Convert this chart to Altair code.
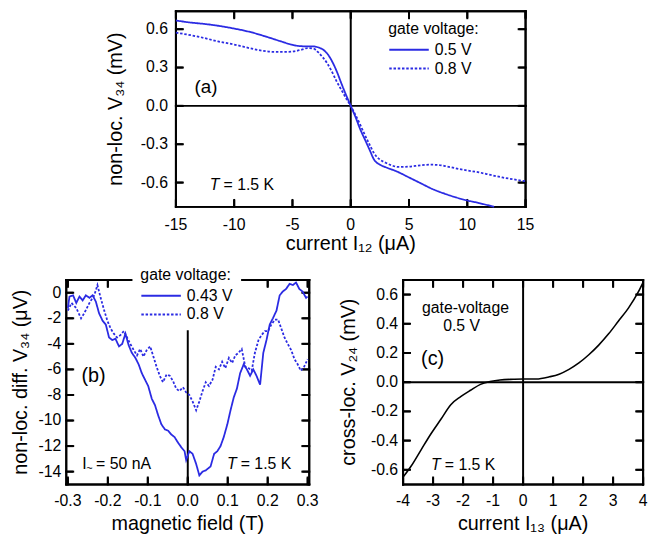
import altair as alt
import pandas as pd

BLUE = "#2b2be3"
FONT = "Liberation Sans"
W, H = 652, 537

# ---------------- panel (a): non-local V34 vs current I12 ----------------
a_gates = ["0.5 V", "0.8 V"]
a_solid_x = [-15, -14, -12, -10, -8.5, -7.2, -6, -4.9, -4.0, -3.2, -2.7, -2.3, -1.9, -1.5, -1.2,
             -0.8, -0.4, 0, 0.4, 0.8, 1.2, 1.6, 2.0, 2.5, 3.0, 4.0, 5.0, 6.0, 7.0, 8.0, 9.0,
             10.0, 11.0, 12.3]
a_solid_y = [0.668, 0.655, 0.635, 0.605, 0.575, 0.54, 0.505, 0.475, 0.466, 0.465, 0.455, 0.435,
             0.395, 0.33, 0.27, 0.175, 0.085, 0.0, -0.085, -0.18, -0.26, -0.34, -0.42, -0.46,
             -0.48, -0.515, -0.56, -0.605, -0.65, -0.685, -0.715, -0.74, -0.76, -0.79]
a_dot_x = [-15, -13, -11.4, -10, -8.6, -7.5, -6.4, -5.5, -4.9, -4.2, -3.7, -3.2, -2.8, -2.4, -2.0,
           -1.6, -1.2, -0.8, -0.4, 0, 0.4, 0.8, 1.2, 1.6, 2.0, 2.5, 3.0, 3.5, 4.1, 5.0, 6.0, 6.9,
           7.6, 8.3, 9.0, 10.0, 11.0, 12.0, 13.0, 14.0, 15.0]
a_dot_y = [0.573, 0.54, 0.505, 0.48, 0.45, 0.43, 0.422, 0.422, 0.426, 0.44, 0.452, 0.448, 0.42,
           0.38, 0.33, 0.265, 0.19, 0.125, 0.06, 0.0, -0.07, -0.145, -0.225, -0.3, -0.37, -0.42,
           -0.445, -0.465, -0.478, -0.475, -0.465, -0.46, -0.463, -0.475, -0.488, -0.505, -0.52,
           -0.54, -0.56, -0.575, -0.59]

# ---------------- panel (b): non-local differential V34 vs magnetic field ----------------
b_gates = ["0.43 V", "0.8 V"]
b_solid_x = [-0.300, -0.296, -0.287, -0.279, -0.271, -0.263, -0.255, -0.246, -0.238, -0.230,
             -0.222, -0.213, -0.205, -0.197, -0.189, -0.181, -0.172, -0.164, -0.156, -0.148,
             -0.140, -0.131, -0.123, -0.115, -0.107, -0.099, -0.090, -0.082, -0.074, -0.066,
             -0.057, -0.049, -0.041, -0.033, -0.025, -0.016, -0.008, -0.004, 0.004, 0.012,
             0.021, 0.029, 0.037, 0.045, 0.057, 0.066, 0.074, 0.082, 0.090, 0.099, 0.107,
             0.115, 0.123, 0.131, 0.140, 0.148, 0.156, 0.164, 0.172, 0.181, 0.189, 0.197,
             0.205, 0.213, 0.222, 0.230, 0.238, 0.246, 0.255, 0.263, 0.271, 0.279, 0.287,
             0.296, 0.300]
b_solid_y = [-1.2, -0.3, -0.2, -0.8, -0.3, -0.6, -0.2, -0.4, -0.2, -0.7, -1.6, -2.2, -2.5, -3.5,
             -3.7, -3.6, -4.2, -4.0, -3.2, -4.1, -4.7, -5.1, -5.6, -6.3, -6.8, -7.3, -8.3, -8.8,
             -9.6, -10.3, -10.7, -10.8, -11.1, -11.3, -11.7, -12.1, -12.4, -13.1, -12.4, -12.6,
             -13.4, -14.3, -14.0, -13.9, -13.6, -12.6, -12.4, -12.0, -11.3, -10.3, -9.2, -8.2,
             -7.5, -6.3, -5.6, -6.0, -6.5, -6.0, -6.5, -7.2, -4.7, -3.7, -2.5, -2.0, -1.4, -0.2,
             0.1, 0.3, 0.7, 0.6, 0.8, 0.3, 0.1, -0.4, -0.3]
b_dot_x = [-0.300, -0.291, -0.279, -0.267, -0.259, -0.246, -0.234, -0.226, -0.218, -0.209,
           -0.201, -0.193, -0.185, -0.177, -0.168, -0.160, -0.152, -0.144, -0.135, -0.127,
           -0.119, -0.111, -0.103, -0.094, -0.086, -0.078, -0.070, -0.062, -0.053, -0.045,
           -0.037, -0.029, -0.021, -0.012, -0.004, 0.004, 0.012, 0.021, 0.029, 0.037, 0.045,
           0.053, 0.062, 0.070, 0.078, 0.086, 0.094, 0.103, 0.111, 0.119, 0.127, 0.135, 0.144,
           0.152, 0.160, 0.168, 0.177, 0.185, 0.193, 0.201, 0.209, 0.218, 0.226, 0.234, 0.242,
           0.250, 0.259, 0.267, 0.275, 0.283, 0.291, 0.300]
b_dot_y = [-1.4, -0.8, -1.2, -2.0, -1.6, -0.8, -0.2, 0.6, -0.4, -1.4, -2.2, -2.8, -3.2, -3.5,
           -3.3, -3.0, -3.5, -4.0, -4.5, -4.9, -4.4, -5.0, -4.5, -4.2, -5.0, -5.8, -6.5, -7.0,
           -6.4, -6.5, -6.9, -7.5, -7.7, -7.4, -7.8, -8.0, -8.5, -9.2, -8.5, -7.7, -7.0, -7.3,
           -6.8, -5.8, -6.0, -5.4, -5.9, -5.1, -5.5, -4.9, -4.7, -4.4, -5.8, -5.9, -6.1, -4.7,
           -3.7, -3.3, -3.0, -3.0, -2.5, -2.1, -2.1, -2.8, -3.5, -4.0, -4.5, -5.2, -5.6, -6.1,
           -5.8, -5.2]

# ---------------- panel (c): cross-local V24 vs current I13 ----------------
c_x = [-4.0, -3.73, -3.4, -3.07, -2.74, -2.41, -2.08, -1.75, -1.42, -1.1, -0.77, -0.33, 0.0,
       0.44, 0.88, 1.2, 1.53, 1.86, 2.19, 2.52, 2.85, 3.18, 3.51, 3.84, 4.0]
c_y = [-0.65, -0.574, -0.463, -0.353, -0.254, -0.154, -0.099, -0.055, -0.015, 0.004, 0.015,
       0.02, 0.022, 0.022, 0.037, 0.055, 0.088, 0.132, 0.188, 0.254, 0.331, 0.419, 0.507,
       0.618, 0.684]

# tick values and tick labels
a_xticks = [-15, -10, -5, 0, 5, 10, 15]
a_xlabels = ["-15", "-10", "-5", "0", "5", "10", "15"]
a_yticks = [-0.6, -0.3, 0.0, 0.3, 0.6]
a_ylabels = ["-0.6", "-0.3", "0.0", "0.3", "0.6"]
b_xticks = [-0.3, -0.2, -0.1, 0.0, 0.1, 0.2, 0.3]
b_xlabels = ["-0.3", "-0.2", "-0.1", "0.0", "0.1", "0.2", "0.3"]
b_yticks = [0, -2, -4, -6, -8, -10, -12, -14]
b_ylabels = ["0", "-2", "-4", "-6", "-8", "-10", "-12", "-14"]
c_xticks = [-4, -3, -2, -1, 0, 1, 2, 3, 4]
c_xlabels = ["-4", "-3", "-2", "-1", "0", "1", "2", "3", "4"]
c_yticks = [-0.6, -0.4, -0.2, 0.0, 0.2, 0.4, 0.6]
c_ylabels = ["-0.6", "-0.4", "-0.2", "0.0", "0.2", "0.4", "0.6"]

TICK_PX = 7  # inward tick length in pixels


def long_df(xs_list, ys_list, gates):
    rows = []
    for xs, ys, g in zip(xs_list, ys_list, gates):
        for xv, yv in zip(xs, ys):
            rows.append({"x": xv, "y": yv, "gate": g})
    return pd.DataFrame(rows)


df_a = long_df([a_solid_x, a_dot_x], [a_solid_y, a_dot_y], a_gates)
df_b = long_df([b_solid_x, b_dot_x], [b_solid_y, b_dot_y], b_gates)
df_c = pd.DataFrame({"x": c_x, "y": c_y})


def sc(dom, rng):
    return alt.Scale(domain=list(dom), range=list(rng), nice=False, zero=False)


def panel_layers(P):
    """All layers of one panel; every layer carries the panel's explicit scales."""
    xs, ys = P["xd"], P["yd"]
    X = lambda f: alt.X(f, type="quantitative", scale=sc(xs, P["xr"]), axis=None)
    Y = lambda f: alt.Y(f, type="quantitative", scale=sc(ys, P["yr"]), axis=None)
    out = []

    dlx = TICK_PX * (xs[1] - xs[0]) / abs(P["xr"][1] - P["xr"][0])
    dly = TICK_PX * (ys[1] - ys[0]) / abs(P["yr"][0] - P["yr"][1])

    edges = [(xs[0], ys[0], xs[1], ys[0]), (xs[0], ys[1], xs[1], ys[1]),
             (xs[0], ys[0], xs[0], ys[1]), (xs[1], ys[0], xs[1], ys[1])]
    ticks = []
    for v in P["xt"]:
        ticks += [(v, ys[0], v, ys[0] + dly), (v, ys[1], v, ys[1] - dly)]
    for v in P["yt"]:
        ticks += [(xs[0], v, xs[0] + dlx, v), (xs[1], v, xs[1] - dlx, v)]

    # zero lines and frame edges: one four-field rule per segment
    for (x1, y1, x2, y2) in list(P["rules"]) + edges:
        d = pd.DataFrame({"x": [x1], "y": [y1], "x2": [x2], "y2": [y2]})
        out.append(alt.Chart(d).mark_rule(color="black", strokeWidth=2, strokeCap="square").encode(
            x=X("x"), x2="x2:Q", y=Y("y"), y2="y2:Q"))

    # inward ticks: four-field rules
    td = pd.DataFrame([{"x": a, "y": b, "x2": c, "y2": d} for (a, b, c, d) in ticks])
    out.append(alt.Chart(td).mark_rule(color="black", strokeWidth=2).encode(
        x=X("x"), x2="x2:Q", y=Y("y"), y2="y2:Q"))

    # same segments once more as two-point lines
    rows = []
    for i, (x1, y1, x2, y2) in enumerate(edges + ticks):
        rows.append({"x": x1, "y": y1, "id": i, "o": 0})
        rows.append({"x": x2, "y": y2, "id": i, "o": 1})
    out.append(alt.Chart(pd.DataFrame(rows)).mark_line(
        color="black", strokeWidth=2, strokeCap="square").encode(
        x=X("x"), y=Y("y"), detail="id:N", order="o:Q"))

    # data lines
    out.append(P["lines"](X, Y))

    tx = pd.DataFrame({"v": P["xt"], "lab": P["xl"], "lo": ys[0]})
    ty = pd.DataFrame({"v": P["yt"], "lab": P["yl"], "lo": xs[0]})

    # tick labels
    out.append(alt.Chart(tx).mark_text(font=FONT, fontSize=16, color="black", align="center",
                                       baseline="top", dy=P["xlpad"]).encode(
        x=X("v"), y=Y("lo"), text="lab:N"))
    out.append(alt.Chart(ty).mark_text(font=FONT, fontSize=16, color="black", align="right",
                                       baseline="middle", dx=-P["ylpad"]).encode(
        x=X("lo"), y=Y("v"), text="lab:N"))

    # axis titles
    dt = pd.DataFrame({"xm": [(xs[0] + xs[1]) / 2], "ylo": [ys[0]], "t": [P["xtitle"]]})
    out.append(alt.Chart(dt).mark_text(font=FONT, fontSize=20, color="black", align="center",
                                       baseline="top", dy=P["xtpad"]).encode(
        x=X("xm"), y=Y("ylo"), text="t:N"))
    dv = pd.DataFrame({"xlo": [xs[0]], "ym": [(ys[0] + ys[1]) / 2], "t": [P["ytitle"]]})
    out.append(alt.Chart(dv).mark_text(font=FONT, fontSize=20, color="black", align="center",
                                       baseline="bottom", angle=270, dy=-P["ytpad"]).encode(
        x=X("xlo"), y=Y("ym"), text="t:N"))

    # annotations
    for (xv, yv, txt, size, align, italic, dx, dy) in P["texts"]:
        d = pd.DataFrame({"x": [xv], "y": [yv], "t": [txt]})
        out.append(alt.Chart(d).mark_text(
            font=FONT, fontSize=size, align=align, baseline="middle", color="black",
            fontStyle="italic" if italic else "normal", dx=dx, dy=dy,
        ).encode(x=X("x"), y=Y("y"), text="t:N"))
    return out


def legend(x, y, pad, fill=None):
    kw = dict(orient="none", legendX=x, legendY=y, title="gate voltage:", titleFont=FONT,
              titleFontSize=16, titleFontWeight="normal", titleColor="black", labelFont=FONT,
              labelFontSize=16, labelColor="black", symbolType="M-1,0H3", symbolSize=400,
              symbolStrokeWidth=2, symbolStrokeColor=BLUE, padding=pad, rowPadding=0,
              titlePadding=2, labelOffset=25)
    if fill:
        kw["fillColor"] = fill
    return alt.Legend(**kw)


DASH = [[1, 0], [2.5, 1.8]]


def lines_a(X, Y):
    return alt.Chart(df_a).mark_line(color=BLUE, strokeWidth=1.8, interpolate="monotone").encode(
        x=X("x"), y=Y("y"),
        strokeDash=alt.StrokeDash("gate:N", scale=alt.Scale(domain=a_gates, range=DASH),
                                  legend=legend(385, 10, 0)))


def lines_b(X, Y):
    return alt.Chart(df_b).mark_line(color=BLUE, strokeWidth=1.8).encode(
        x=X("x"), y=Y("y"),
        strokeDash=alt.StrokeDash("gate:N", scale=alt.Scale(domain=b_gates, range=DASH),
                                  legend=legend(126, 251, 8, "white")))


def lines_c(X, Y):
    return alt.Chart(df_c).mark_line(color="black", strokeWidth=1.6,
                                     interpolate="monotone").encode(x=X("x"), y=Y("y"))


PA = dict(xd=(-15, 15), yd=(-0.79, 0.74), xr=(170, 524), yr=(198, 0), df=df_a,
          xt=a_xticks, xl=a_xlabels, yt=a_yticks, yl=a_ylabels,
          xtitle="current I\u2081\u2082 (\u03bcA)", ytitle="non-loc. V\u2083\u2084 (mV)",
          xlpad=10, ylpad=8, xtpad=28, ytpad=51, lines=lines_a,
          rules=[(0, -0.79, 0, 0.74), (-15, 0, 15, 0)],
          texts=[(-13.4, 0.15, "(a)", 19, "left", False, 0, 0),
                 (-12.1, -0.62, "T", 16, "left", True, 0, 0),
                 (-12.1, -0.62, "= 1.5 K", 16, "left", False, 14, 0)])
PB = dict(xd=(-0.304, 0.304), yd=(-15, 1), xr=(59, 305), yr=(479, 272), df=df_b,
          xt=b_xticks, xl=b_xlabels, yt=b_yticks, yl=b_ylabels,
          xtitle="magnetic field (T)", ytitle="non-loc. diff. V\u2083\u2084 (\u03bcV)",
          xlpad=9, ylpad=5, xtpad=30, ytpad=36, lines=lines_b,
          rules=[(0, -15, 0, 1)],
          texts=[(-0.266, -6.5, "(b)", 20, "left", False, 0, 0),
                 (-0.264, -13.4, "I", 16, "left", False, 0, 0),
                 (-0.264, -13.4, "~", 11, "left", False, 4, 5),
                 (-0.264, -13.4, "= 50 nA", 16, "left", False, 14, 0),
                 (0.098, -13.4, "T", 16, "left", True, 0, 0),
                 (0.098, -13.4, "= 1.5 K", 16, "left", False, 14, 0)])
PC = dict(xd=(-4, 4), yd=(-0.7, 0.7), xr=(400, 643), yr=(479, 272), df=df_c,
          xt=c_xticks, xl=c_xlabels, yt=c_yticks, yl=c_ylabels,
          xtitle="current I\u2081\u2083 (\u03bcA)", ytitle="cross-loc. V\u2082\u2084 (mV)",
          xlpad=9, ylpad=5, xtpad=30, ytpad=45, lines=lines_c,
          rules=[(0, -0.7, 0, 0.7), (-4, 0, 4, 0)],
          texts=[(-1.92, 0.51, "gate-voltage", 16, "center", False, 0, 0),
                 (-2.05, 0.386, "0.5 V", 16, "center", False, 0, 0),
                 (-3.4, 0.16, "(c)", 20, "left", False, 0, 0),
                 (-3.07, -0.567, "T", 16, "left", True, 0, 0),
                 (-3.07, -0.567, "= 1.5 K", 16, "left", False, 14, 0)])

layers = panel_layers(PA) + panel_layers(PB) + panel_layers(PC)

chart = alt.layer(*layers).resolve_scale(
    x="independent", y="independent", strokeDash="independent"
).properties(
    width=W, height=H,
    autosize=alt.AutoSizeParams(type="none"),
    padding={"left": 0, "right": 0, "top": 0, "bottom": 0},
).configure_view(stroke=None)

chart.save("out.html", embed_options={"renderer": "svg", "actions": False})
